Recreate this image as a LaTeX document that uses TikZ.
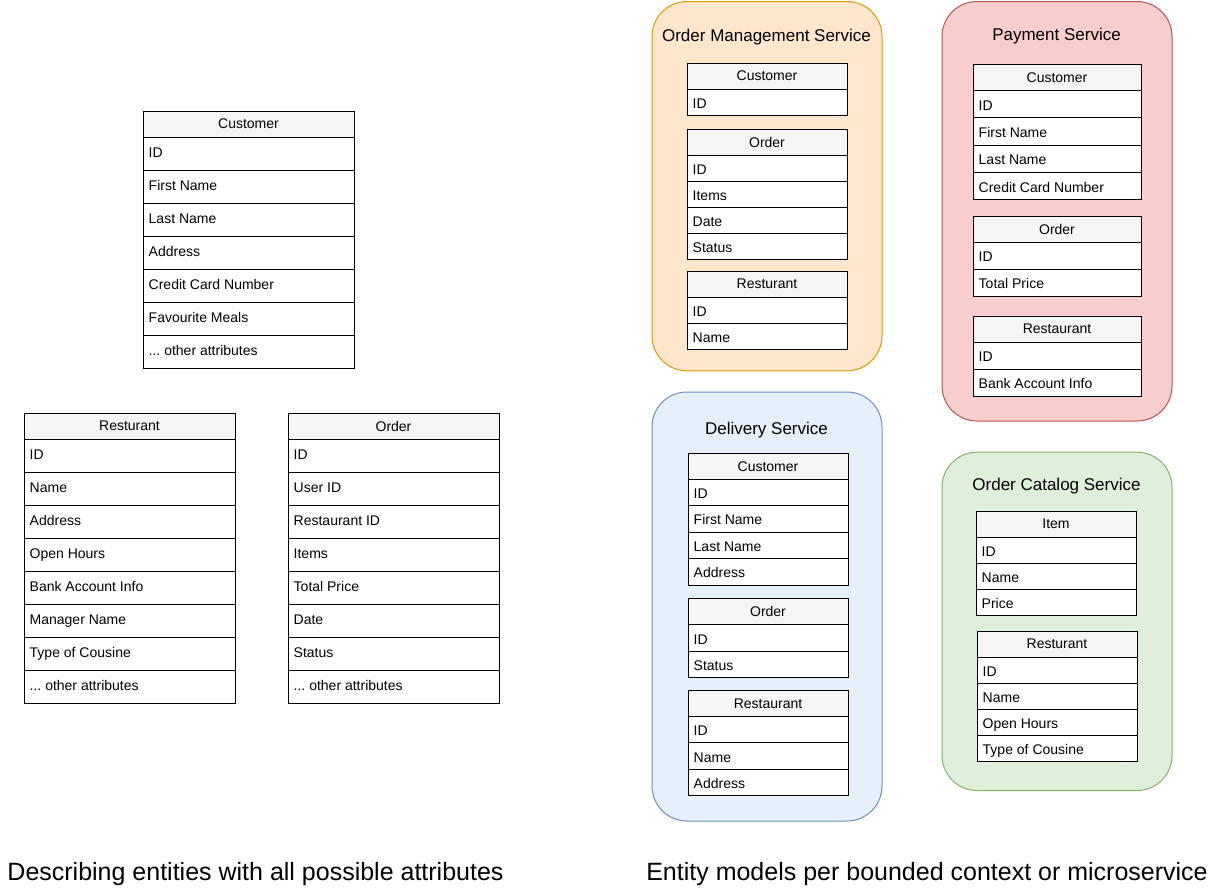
\documentclass[tikz,border=0pt]{standalone}
\usepackage{fontspec}
\setmainfont{Liberation Sans}
\frenchspacing
\definecolor{hdrfill}{HTML}{F5F5F5}
\definecolor{orfill}{HTML}{FFE6CC}
\definecolor{ordraw}{HTML}{D79B00}
\definecolor{rdfill}{HTML}{F8CECC}
\definecolor{rddraw}{HTML}{B85450}
\definecolor{blfill}{HTML}{E6F0FA}
\definecolor{bldraw}{HTML}{6C8EBF}
\definecolor{gnfill}{HTML}{DEEFDA}
\definecolor{gndraw}{HTML}{82B366}
\newcommand\tdots{...}
\newcommand\rowshift{0pt}
\tikzset{
  hdr/.style={draw=black, line width=1pt, fill=hdrfill, inner sep=0pt, font=\fontsize{14}{16}\selectfont},
  rowbox/.style={draw=black, line width=1pt, fill=white, inner sep=0pt},
  rowtext/.style={anchor=west, inner sep=0pt, text height=10pt, text depth=3pt, font=\fontsize{14}{16}\selectfont},
  container/.style={line width=1pt, rounded corners=35pt, inner sep=0pt, anchor=north west},
  ctitle/.style={inner sep=0pt, font=\fontsize{17}{20}\selectfont},
  caption/.style={inner sep=0pt, font=\fontsize{25}{30}\selectfont},
}
% #1 name, #2 x, #3 y, #4 width, #5 header height, #6 row height, #7 title, #8 rows
\newcommand\entity[8]{%
  \node[hdr, minimum width=#4pt, minimum height=#5pt, anchor=north west] (#1) at (#2,#3) {#7};
  \foreach \t [count=\i] in {#8} {
    \node[rowbox, minimum width=#4pt, minimum height=#6pt, anchor=north west] (#1-\i) at (#2,{#3+#5+(\i-1)*#6}) {};
    \node[rowtext, yshift=\rowshift] (#1-\i-t) at ([xshift=6pt]#1-\i.west) {\t};
  }
}
\begin{document}
\begin{tikzpicture}[x=1pt,y=-1pt]
\useasboundingbox (0,0) rectangle (1217,892);
% left side entities
\entity{cust}{142.5}{110.5}{211}{26}{33}{Customer}{ID,First Name,Last Name,Address,Credit Card Number,Favourite Meals,{\tdots{} other attributes}}
\entity{rest}{23.5}{412.5}{211}{26}{33}{Resturant}{ID,Name,Address,Open Hours,Bank Account Info,Manager Name,Type of Cousine,{\tdots{} other attributes}}
\entity{ord}{287.5}{412.5}{211}{26}{33}{Order}{ID,User ID,Restaurant ID,Items,Total Price,Date,Status,{\tdots{} other attributes}}
% containers
\node[container, fill=orfill, draw=ordraw, minimum width=230pt, minimum height=369.3pt] (oms) at (651.5,1) {};
\node[container, fill=rdfill, draw=rddraw, minimum width=230pt, minimum height=419.5pt] (pay) at (941.5,1) {};
\node[container, fill=blfill, draw=bldraw, minimum width=230pt, minimum height=429pt] (del) at (651.5,391.5) {};
\node[container, fill=gnfill, draw=gndraw, minimum width=230pt, minimum height=338.3pt] (cat) at (941.5,451.7) {};
\node[ctitle] (oms-t) at (766.5,37) {Order Management Service};
\node[ctitle] (pay-t) at (1056.5,36) {Payment Service};
\node[ctitle] (del-t) at (766.5,430) {Delivery Service};
\node[ctitle] (cat-t) at (1056.5,486) {Order Catalog Service};
\renewcommand\rowshift{-2.5pt}
% order management
\entity{omsc}{686.5}{62.5}{160}{26}{26}{Customer}{ID}
\entity{omso}{686.5}{128.5}{160}{26}{26}{Order}{ID,Items,Date,Status}
\entity{omsr}{686.5}{270.5}{160}{26}{26}{Resturant}{ID,Name}
% payment
\entity{payc}{972.5}{64}{168}{26}{27.35}{Customer}{ID,First Name,Last Name,Credit Card Number}
\entity{payo}{972.5}{215.5}{168}{26}{27.2}{Order}{ID,Total Price}
\entity{payr}{972.5}{315.5}{168}{26}{27.3}{Restaurant}{ID,Bank Account Info}
% delivery
\entity{delc}{687.5}{452.7}{160}{26}{26.5}{Customer}{ID,First Name,Last Name,Address}
\entity{delo}{687.5}{598.3}{160}{26}{26.5}{Order}{ID,Status}
\entity{delr}{687.5}{690}{160}{26}{26.4}{Restaurant}{ID,Name,Address}
% catalog
\entity{cati}{975.5}{510.7}{160}{26}{26}{Item}{ID,Name,Price}
\entity{catr}{976.5}{630.7}{160}{26}{26}{Resturant}{ID,Name,Open Hours,Type of Cousine}
% captions
\node[caption] (cap-l) at (255.5,874) {Describing entities with all possible attributes};
\node[caption] (cap-r) at (927,874) {Entity models per bounded context or microservice};
\end{tikzpicture}
\end{document}
